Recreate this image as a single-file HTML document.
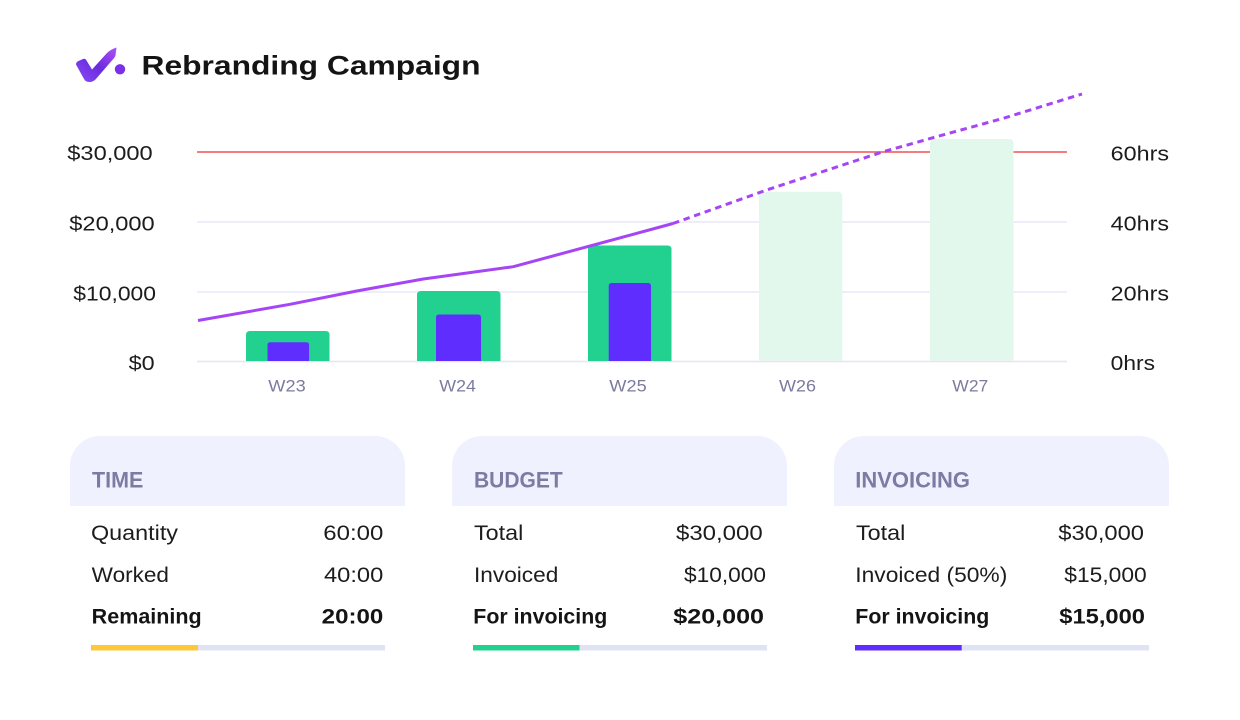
<!DOCTYPE html>
<html>
<head>
<meta charset="utf-8">
<style>
  html,body{margin:0;padding:0;background:#ffffff;}
  svg{display:block;}
  text{font-family:"Liberation Sans", Arial, sans-serif;}
</style>
</head>
<body>
<svg width="1240" height="720" viewBox="0 0 1240 720" xmlns="http://www.w3.org/2000/svg">
  <defs>
    <linearGradient id="lg" x1="0" y1="1" x2="1" y2="0">
      <stop offset="0" stop-color="#8a4ff5"/>
      <stop offset="0.5" stop-color="#6a2be0"/>
      <stop offset="1" stop-color="#b350f5"/>
    </linearGradient>
  </defs>
  <rect width="1240" height="720" fill="#ffffff"/>

  <!-- Logo -->
  <path d="M76,64.5 Q76,62 78.5,61 L83,59 Q85,58.3 86.2,60 L92,69.5 L107,53 Q110.5,49.5 116.5,47.5 L115.5,55.5 Q114.5,58 111.5,61 L95.5,79.5 Q92,82.8 87.5,81.8 Q85,81 84,79 Z" fill="url(#lg)"/>
  <circle cx="120" cy="69.3" r="5.2" fill="#7a30e6"/>

  <!-- Title -->
  <text x="141.5" y="74.5" font-size="27" font-weight="bold" fill="#141414" textLength="339" lengthAdjust="spacingAndGlyphs">Rebranding Campaign</text>

  <!-- Gridlines -->
  <line x1="197" y1="222" x2="1067" y2="222" stroke="#e7e8f7" stroke-width="1.5"/>
  <line x1="197" y1="292" x2="1067" y2="292" stroke="#e7e8f7" stroke-width="1.5"/>
  <line x1="197" y1="361.5" x2="1067" y2="361.5" stroke="#e4e6f4" stroke-width="1.5"/>
  <!-- Red budget line -->
  <line x1="197" y1="152" x2="1067" y2="152" stroke="#f26b6b" stroke-width="1.8"/>

  <!-- Bars -->
  <path d="M246,361 V335 Q246,331 250,331 H325.5 Q329.5,331 329.5,335 V361 Z" fill="#22d18f"/>
  <path d="M267.5,361 V345 Q267.5,342.3 270.5,342.3 H306 Q309,342.3 309,345 V361 Z" fill="#5f2eff"/>

  <path d="M417,361 V295 Q417,291 421,291 H496.5 Q500.5,291 500.5,295 V361 Z" fill="#22d18f"/>
  <path d="M436,361 V317.5 Q436,314.5 439,314.5 H478 Q481,314.5 481,317.5 V361 Z" fill="#5f2eff"/>

  <path d="M588,361 V249.5 Q588,245.5 592,245.5 H667.5 Q671.5,245.5 671.5,249.5 V361 Z" fill="#22d18f"/>
  <path d="M608.7,361 V286 Q608.7,283 611.7,283 H648 Q651,283 651,286 V361 Z" fill="#5f2eff"/>

  <path d="M759,360.5 V196 Q759,191.7 763.5,191.7 H838 Q842.3,191.7 842.3,196 V360.5 Z" fill="#e3f8ec"/>
  <path d="M930,360.5 V143.5 Q930,139 934.5,139 H1009 Q1013.5,139 1013.5,143.5 V360.5 Z" fill="#e3f8ec"/>

  <!-- Purple hours line -->
  <polyline points="198,320.5 290,304.3 356.7,291 423.3,279 513.3,266.7 673,223.5" fill="none" stroke="#a545f6" stroke-width="3" stroke-linejoin="round"/>
  <polyline points="673,223.5 766.7,190 883.3,151.7 936.7,136.7 1003.3,118.3 1082,94" fill="none" stroke="#a545f6" stroke-width="3" stroke-dasharray="6.5 4.7"/>

  <!-- Left axis labels -->
  <text x="67.3" y="160" font-size="20" fill="#1c1c1c" textLength="85.4" lengthAdjust="spacingAndGlyphs">$30,000</text>
  <text x="69.3" y="230.5" font-size="20" fill="#1c1c1c" textLength="85.4" lengthAdjust="spacingAndGlyphs">$20,000</text>
  <text x="73.3" y="300.5" font-size="20" fill="#1c1c1c" textLength="82.7" lengthAdjust="spacingAndGlyphs">$10,000</text>
  <text x="128.7" y="370" font-size="20" fill="#1c1c1c" textLength="26" lengthAdjust="spacingAndGlyphs">$0</text>

  <!-- Right axis labels -->
  <text x="1110.7" y="160.5" font-size="20" fill="#1c1c1c" textLength="58.3" lengthAdjust="spacingAndGlyphs">60hrs</text>
  <text x="1110.7" y="230.5" font-size="20" fill="#1c1c1c" textLength="58.3" lengthAdjust="spacingAndGlyphs">40hrs</text>
  <text x="1110.7" y="300.5" font-size="20" fill="#1c1c1c" textLength="58.3" lengthAdjust="spacingAndGlyphs">20hrs</text>
  <text x="1110.7" y="370" font-size="20" fill="#1c1c1c" textLength="44.3" lengthAdjust="spacingAndGlyphs">0hrs</text>

  <!-- X axis labels -->
  <text x="268.3" y="391.7" font-size="17" fill="#7b7b9e" textLength="37.4" lengthAdjust="spacingAndGlyphs">W23</text>
  <text x="439.3" y="391.7" font-size="17" fill="#7b7b9e" textLength="36.7" lengthAdjust="spacingAndGlyphs">W24</text>
  <text x="609.3" y="391.7" font-size="17" fill="#7b7b9e" textLength="37.4" lengthAdjust="spacingAndGlyphs">W25</text>
  <text x="779" y="391.7" font-size="17" fill="#7b7b9e" textLength="37" lengthAdjust="spacingAndGlyphs">W26</text>
  <text x="952.3" y="391.7" font-size="17" fill="#7b7b9e" textLength="36" lengthAdjust="spacingAndGlyphs">W27</text>

  <!-- Card headers -->
  <path d="M70,506 V466 A30,30 0 0 1 100,436 H375 A30,30 0 0 1 405,466 V506 Z" fill="#f0f1fe"/>
  <path d="M452,506 V466 A30,30 0 0 1 482,436 H757 A30,30 0 0 1 787,466 V506 Z" fill="#f0f1fe"/>
  <path d="M834,506 V466 A30,30 0 0 1 864,436 H1139 A30,30 0 0 1 1169,466 V506 Z" fill="#f0f1fe"/>

  <text x="92" y="487.3" font-size="22" font-weight="bold" fill="#7c7ba3" textLength="51.3" lengthAdjust="spacingAndGlyphs">TIME</text>
  <text x="474" y="487.3" font-size="22" font-weight="bold" fill="#7c7ba3" textLength="88.7" lengthAdjust="spacingAndGlyphs">BUDGET</text>
  <text x="855.3" y="487.3" font-size="22" font-weight="bold" fill="#7c7ba3" textLength="114.7" lengthAdjust="spacingAndGlyphs">INVOICING</text>

  <!-- TIME card -->
  <text x="91" y="540" font-size="21" fill="#1c1c1c" textLength="87" lengthAdjust="spacingAndGlyphs">Quantity</text>
  <text x="323.3" y="540" font-size="21" fill="#1c1c1c" textLength="60" lengthAdjust="spacingAndGlyphs">60:00</text>
  <text x="91.7" y="582" font-size="21" fill="#1c1c1c" textLength="77.3" lengthAdjust="spacingAndGlyphs">Worked</text>
  <text x="324" y="582" font-size="21" fill="#1c1c1c" textLength="59.3" lengthAdjust="spacingAndGlyphs">40:00</text>
  <text x="91.7" y="623.5" font-size="21" font-weight="bold" fill="#141414" textLength="110" lengthAdjust="spacingAndGlyphs">Remaining</text>
  <text x="321.7" y="623.5" font-size="21" font-weight="bold" fill="#141414" textLength="61.6" lengthAdjust="spacingAndGlyphs">20:00</text>
  <rect x="91" y="645" width="294" height="5.5" fill="#dfe3f4"/>
  <rect x="91" y="645" width="107" height="5.5" fill="#ffc83a"/>

  <!-- BUDGET card -->
  <text x="474" y="540" font-size="21" fill="#1c1c1c" textLength="49.3" lengthAdjust="spacingAndGlyphs">Total</text>
  <text x="676" y="540" font-size="21" fill="#1c1c1c" textLength="86.7" lengthAdjust="spacingAndGlyphs">$30,000</text>
  <text x="474" y="582" font-size="21" fill="#1c1c1c" textLength="84.3" lengthAdjust="spacingAndGlyphs">Invoiced</text>
  <text x="684" y="582" font-size="21" fill="#1c1c1c" textLength="82" lengthAdjust="spacingAndGlyphs">$10,000</text>
  <text x="473.3" y="623.5" font-size="21" font-weight="bold" fill="#141414" textLength="134" lengthAdjust="spacingAndGlyphs">For invoicing</text>
  <text x="673.3" y="623.5" font-size="21" font-weight="bold" fill="#141414" textLength="90.7" lengthAdjust="spacingAndGlyphs">$20,000</text>
  <rect x="473" y="645" width="294" height="5.5" fill="#dfe3f4"/>
  <rect x="473" y="645" width="106.5" height="5.5" fill="#22d18f"/>

  <!-- INVOICING card -->
  <text x="856" y="540" font-size="21" fill="#1c1c1c" textLength="49.3" lengthAdjust="spacingAndGlyphs">Total</text>
  <text x="1058.3" y="540" font-size="21" fill="#1c1c1c" textLength="85.7" lengthAdjust="spacingAndGlyphs">$30,000</text>
  <text x="855.3" y="582" font-size="21" fill="#1c1c1c" textLength="152" lengthAdjust="spacingAndGlyphs">Invoiced (50%)</text>
  <text x="1064.3" y="582" font-size="21" fill="#1c1c1c" textLength="82.4" lengthAdjust="spacingAndGlyphs">$15,000</text>
  <text x="855.3" y="623.5" font-size="21" font-weight="bold" fill="#141414" textLength="134" lengthAdjust="spacingAndGlyphs">For invoicing</text>
  <text x="1059.3" y="623.5" font-size="21" font-weight="bold" fill="#141414" textLength="85.7" lengthAdjust="spacingAndGlyphs">$15,000</text>
  <rect x="855" y="645" width="294" height="5.5" fill="#dfe3f4"/>
  <rect x="855" y="645" width="106.7" height="5.5" fill="#5f2eff"/>
</svg>
</body>
</html>
